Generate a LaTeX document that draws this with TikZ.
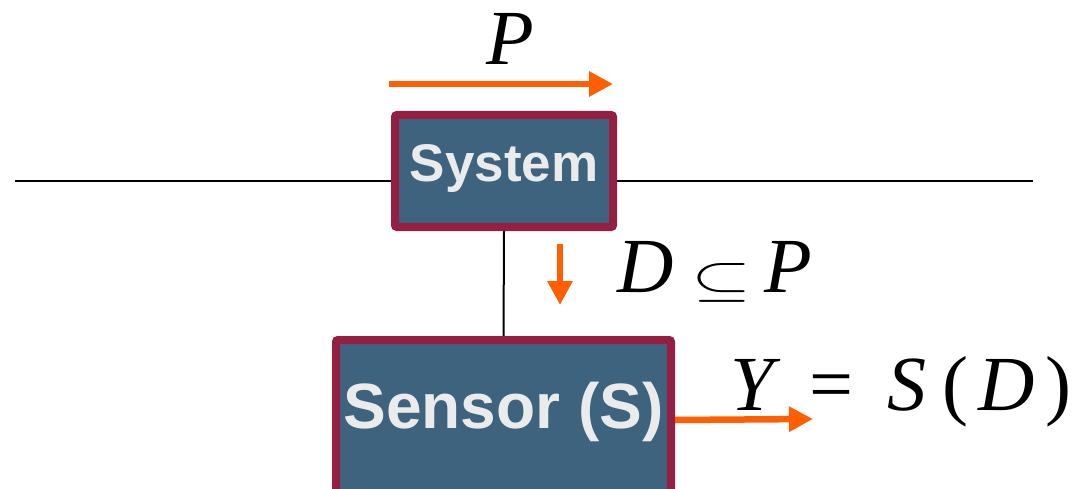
\documentclass[tikz,border=0pt]{standalone}
\usepackage{graphicx}
\usepackage{fontspec}
\setsansfont{Liberation Sans}
\newfontfamily\timesf{Liberation Serif}
\usetikzlibrary{arrows.meta,backgrounds}
\definecolor{boxfill}{HTML}{3E637F}
\definecolor{boxedge}{HTML}{951E43}
\definecolor{boxtext}{HTML}{EBEBEB}
\definecolor{orangearr}{HTML}{FF5F00}
\newcommand{\bigsubeq}{\raisebox{-3pt}{\resizebox{60pt}{32pt}{$\subseteq$}}}
\begin{document}
\begin{tikzpicture}[x=1pt,y=-1pt,
  blockbox/.style={draw=boxedge,fill=boxfill,line width=8pt,rounded corners=2pt,inner sep=0pt},
  blocktext/.style={text=boxtext,inner sep=0pt,anchor=base},
  flowarrow/.style={draw=orangearr,line width=6.5pt,-{Triangle[length=24pt,width=24pt]}},
  wire/.style={draw=black,line width=2pt},
  mathlabel/.style={font=\timesf\itshape\fontsize{78}{86}\selectfont,inner sep=0pt}]
\useasboundingbox (0,0) rectangle (1073,489);
\clip (0,0) rectangle (1073,489);
% boxes
\node[blockbox,minimum width=218pt,minimum height=112pt] (system) at (504,171) {};
\node[blocktext,font=\sffamily\bfseries\fontsize{53}{60}\selectfont] (systemtext) at (504,182) {System};
\node[blockbox,minimum width=335pt,minimum height=160pt] (sensor) at (503.5,420) {};
\node[blocktext,font=\sffamily\bfseries\fontsize{64}{70}\selectfont] (sensortext) at (503.5,428) {Sensor (S)};
% coordinates
\coordinate (hl) at (15,181);
\coordinate (hr) at (1033,181);
\coordinate (pa) at (389,84);
\coordinate (pb) at (613,84);
\coordinate (da) at (560,244);
\coordinate (db) at (560,305);
\coordinate (yb) at (813,419);
% wires
\begin{scope}[on background layer]
\draw[wire] (hl) -- (hl -| system.west);
\draw[wire] (hr -| system.east) -- (hr);
\draw[wire] (system.south) -- (sensor.north);
\draw[flowarrow] (sensor.east) -- (yb);
\end{scope}
\draw[flowarrow] (pa) -- (pb);
\draw[flowarrow] (da) -- (db);
% labels
\node[mathlabel,anchor=base] (plabel) at (510,65) {P};
\node[mathlabel,anchor=base west] (dlabel) at (617,292) {D\hspace{18pt}\bigsubeq\hspace{13pt}P};
\node[mathlabel,anchor=base west] (ylabel) at (730,410) {Y\hspace{36pt}{\upshape=}\hspace{34pt}S\hspace{16pt}{\upshape(}\hspace{10pt}D\hspace{11pt}{\upshape)}};
\end{tikzpicture}
\end{document}
